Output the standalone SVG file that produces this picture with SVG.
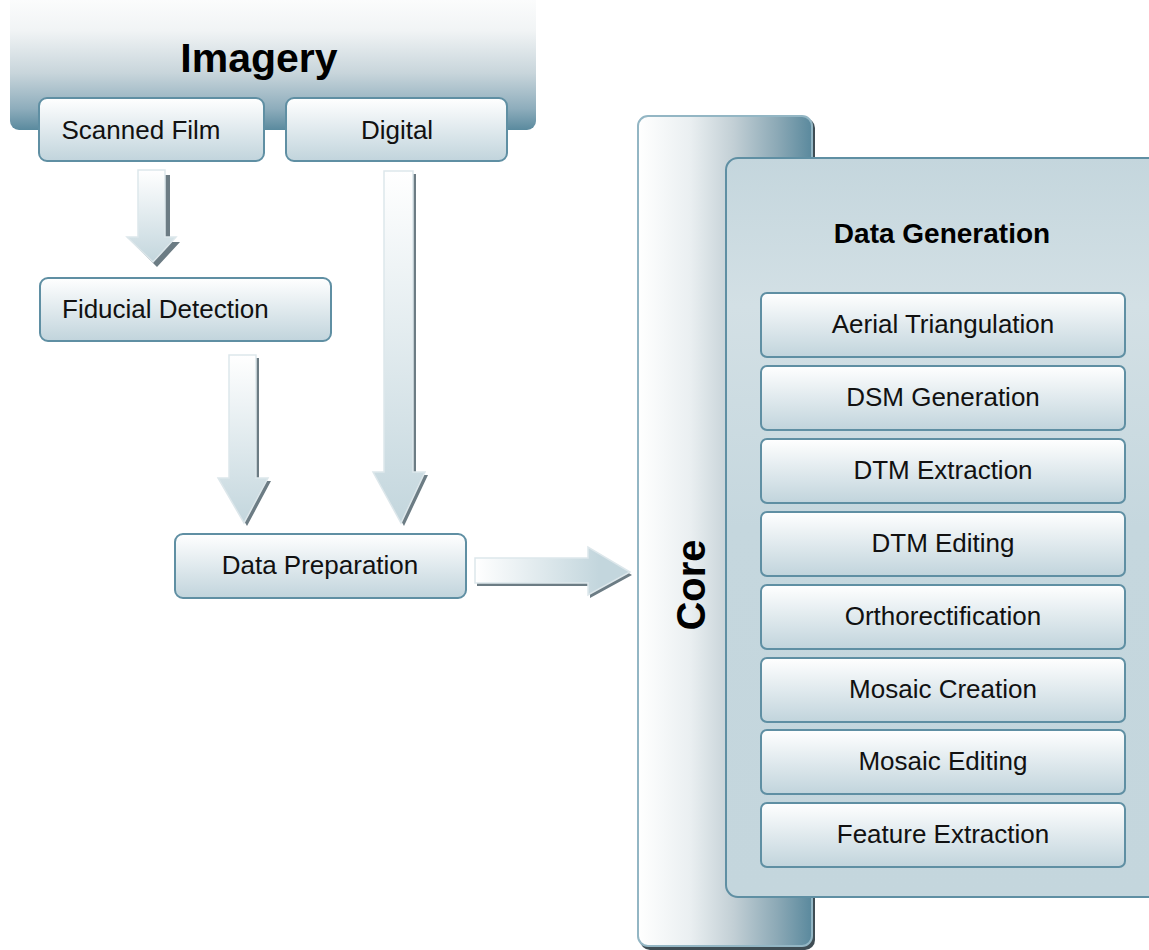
<svg xmlns="http://www.w3.org/2000/svg" width="1149" height="950" viewBox="0 0 1149 950">
<defs>
<linearGradient id="gImg" x1="0" y1="0" x2="0" y2="1">
<stop offset="0" stop-color="#ffffff"/>
<stop offset="0.3" stop-color="#f1f4f5"/>
<stop offset="0.6" stop-color="#c8d5db"/>
<stop offset="0.85" stop-color="#8eadbc"/>
<stop offset="1" stop-color="#5a8a9e"/>
</linearGradient>
<linearGradient id="gCore" x1="0" y1="0" x2="1" y2="0">
<stop offset="0" stop-color="#ffffff"/>
<stop offset="0.3" stop-color="#eaeff1"/>
<stop offset="0.55" stop-color="#c2cfd5"/>
<stop offset="0.8" stop-color="#8ca9b6"/>
<stop offset="1" stop-color="#5a899d"/>
</linearGradient>
<linearGradient id="gBox" x1="0" y1="0" x2="0" y2="1">
<stop offset="0" stop-color="#ffffff"/>
<stop offset="1" stop-color="#c1d4dc"/>
</linearGradient>
<linearGradient id="gPanel" x1="0" y1="0" x2="0" y2="1">
<stop offset="0" stop-color="#c4d6dd"/>
<stop offset="0.2" stop-color="#d3e0e5"/>
<stop offset="0.5" stop-color="#c5d7de"/>
<stop offset="1" stop-color="#c4d6dd"/>
</linearGradient>
<linearGradient id="gArrV" x1="0" y1="0" x2="0" y2="1">
<stop offset="0" stop-color="#ffffff"/>
<stop offset="1" stop-color="#c3d6dd"/>
</linearGradient>
<linearGradient id="gArrH" x1="0" y1="0" x2="1" y2="0">
<stop offset="0" stop-color="#ffffff"/>
<stop offset="0.8" stop-color="#c3d6dd"/>
<stop offset="1" stop-color="#c3d6dd"/>
</linearGradient>
</defs>
<style>
.box{fill:url(#gBox);stroke:#5f8fa3;stroke-width:2}
.t{font-family:"Liberation Sans",Arial,sans-serif;font-size:26px;fill:#111;text-anchor:middle}
.b{font-family:"Liberation Sans",Arial,sans-serif;font-weight:bold;fill:#000;text-anchor:middle}
.arr{stroke:#dde7eb;stroke-width:1.5}
.sh{fill:#6c7c84}
</style>

<g id="imagery">
<rect x="10" y="-12" width="526" height="142" rx="9" fill="url(#gImg)"/>
<text class="b" x="259" y="72" font-size="41">Imagery</text>
</g>
<g id="scanned-film">
<rect class="box" x="39" y="98" width="225" height="63" rx="8"/>
<text class="t" x="141" y="139">Scanned Film</text>
</g>
<g id="digital">
<rect class="box" x="286" y="98" width="221" height="63" rx="8"/>
<text class="t" x="397" y="139">Digital</text>
</g>
<g id="fiducial-detection">
<rect class="box" x="40" y="278" width="291" height="63" rx="8"/>
<text class="t" x="62" y="318" style="text-anchor:start">Fiducial Detection</text>
</g>
<g id="data-preparation">
<rect class="box" x="175" y="534" width="291" height="64" rx="8"/>
<text class="t" x="320" y="574">Data Preparation</text>
</g>

<g id="core">
<rect x="640" y="118" width="175" height="832" rx="10" fill="#3f4d54"/>
<rect x="638" y="116" width="174" height="830" rx="10" fill="url(#gCore)" stroke="#93b6c4" stroke-width="2"/>
<text class="b" font-size="40" transform="translate(705,585) rotate(-90)">Core</text>
</g>

<g id="data-generation">
<rect x="726" y="158" width="440" height="739" rx="12" fill="url(#gPanel)" stroke="#5f8fa3" stroke-width="2"/>
<text class="b" x="942" y="243" font-size="28">Data Generation</text>
</g>
<g id="aerial-triangulation">
<rect class="box" x="761" y="293" width="364" height="64" rx="6"/>
<text class="t" x="943" y="333">Aerial Triangulation</text>
</g>
<g id="dsm-generation">
<rect class="box" x="761" y="366" width="364" height="64" rx="6"/>
<text class="t" x="943" y="406">DSM Generation</text>
</g>
<g id="dtm-extraction">
<rect class="box" x="761" y="439" width="364" height="64" rx="6"/>
<text class="t" x="943" y="479">DTM Extraction</text>
</g>
<g id="dtm-editing">
<rect class="box" x="761" y="512" width="364" height="64" rx="6"/>
<text class="t" x="943" y="552">DTM Editing</text>
</g>
<g id="orthorectification">
<rect class="box" x="761" y="585" width="364" height="64" rx="6"/>
<text class="t" x="943" y="625">Orthorectification</text>
</g>
<g id="mosaic-creation">
<rect class="box" x="761" y="658" width="364" height="64" rx="6"/>
<text class="t" x="943" y="698">Mosaic Creation</text>
</g>
<g id="mosaic-editing">
<rect class="box" x="761" y="730" width="364" height="64" rx="6"/>
<text class="t" x="943" y="770">Mosaic Editing</text>
</g>
<g id="feature-extraction">
<rect class="box" x="761" y="803" width="364" height="64" rx="6"/>
<text class="t" x="943" y="843">Feature Extraction</text>
</g>

<g id="connectors">
<polygon class="sh" points="141,173 168,173 168,240 178,240 155,265 130,240 141,240" transform="translate(2,2)"/>
<polygon class="arr" fill="url(#gArrV)" points="138,170 165,170 165,237 176,237 153,262 127,237 138,237"/>

<polygon class="sh" points="229,355 256,355 256,478 268,478 244,523 218,478 229,478" transform="translate(3,3)"/>
<polygon class="arr" fill="url(#gArrV)" points="229,355 256,355 256,478 268,478 244,523 218,478 229,478"/>

<polygon class="sh" points="384,171 413,171 413,472 425,472 401,523 373,472 384,472" transform="translate(3,3)"/>
<polygon class="arr" fill="url(#gArrV)" points="384,171 413,171 413,472 425,472 401,523 373,472 384,472"/>

<polygon class="sh" points="475,558 588,558 588,547 630,572 588,595 588,583 475,583" transform="translate(2,3)"/>
<polygon class="arr" fill="url(#gArrH)" points="475,558 588,558 588,547 630,572 588,595 588,583 475,583"/>
</g>
</svg>
